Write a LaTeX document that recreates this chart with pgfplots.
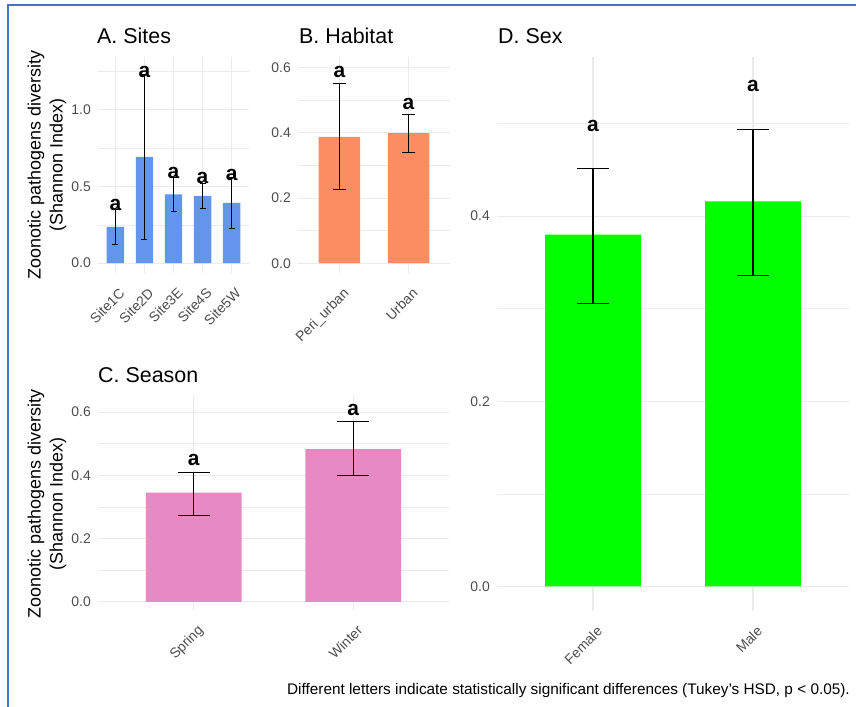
\documentclass[border=0pt]{standalone}
\usepackage{fontspec}
\setmainfont{Liberation Sans}
\usepackage{pgfplots}
\pgfplotsset{compat=1.18}
\definecolor{gridc}{HTML}{EBEBEB}
\definecolor{tickc}{HTML}{4D4D4D}
\definecolor{barA}{HTML}{6495ED}
\definecolor{barB}{HTML}{FC8D62}
\definecolor{barC}{HTML}{E78AC3}
\definecolor{barD}{HTML}{00FF00}
\definecolor{framec}{HTML}{4472C4}
\newcommand{\tickfont}{\fontsize{14}{16}\selectfont}
\newcommand{\titlefont}{\fontsize{21.5}{24}\selectfont}
\newcommand{\letterfont}{\bfseries\fontsize{21}{21}\selectfont}
\pgfplotsset{
  panel/.style={
    scale only axis,
    anchor=south west,
    axis line style={draw=none},
    tick style={draw=none},
    major tick length=0pt,
    minor tick length=0pt,
    xmajorgrids, ymajorgrids, yminorgrids,
    major grid style={gridc, line width=1.1pt},
    minor grid style={gridc, line width=0.6pt},
    /pgf/number format/assume math mode=true,
    /pgf/number format/fixed,
    /pgf/number format/fixed zerofill,
    /pgf/number format/precision=1,
    yticklabel style={font=\tickfont, text=tickc, anchor=east, inner sep=0pt, xshift=-7bp},
    xticklabel style={font=\tickfont, text=tickc, xshift=3bp, yshift=-14bp, rotate=45, anchor=north east, inner sep=0pt},
    clip=false,
  },
  bars/.style={ybar, bar width=0.6, draw=none, fill=#1,
    error bars/y dir=both, error bars/y explicit,
    error bars/error bar style={black, line width=1.1pt},
  },
  letters/.style={only marks, mark=none, nodes near coords={a},
    nodes near coords align={center},
    every node near coord/.append style={font=\letterfont, text=black, inner sep=0pt},
  },
}
\begin{document}
\begin{tikzpicture}[x=1bp, y=1bp]
\path[use as bounding box] (0,0) rectangle (856,707);
\draw[framec, line width=2bp] (8,0) -- (8,702) -- (856,702);

% Panel A
\begin{axis}[panel, at={(98bp,434bp)}, width=151bp, height=216bp,
  xmin=0.4, xmax=5.6, ymin=-0.064, ymax=1.344,
  xtick={1,2,3,4,5}, xticklabels={Site1C,Site2D,Site3E,Site4S,Site5W},
  ytick={0,0.5,1.0}, minor ytick={0.25,0.75,1.25}]
\addplot[bars=barA, error bars/error mark options={rotate=90, black, mark size=3bp, line width=1.1pt}] table[x=x, y=y, y error plus=ep, y error minus=em] {
x y ep em
1 0.237 0.115 0.115
2 0.693 0.538 0.538
3 0.448 0.113 0.113
4 0.439 0.082 0.082
5 0.393 0.167 0.167
};
\addplot[letters] table[x=x, y=y] {
x y
1 0.378
2 1.246
3 0.585
4 0.554
5 0.574
};
\end{axis}

% Panel B
\begin{axis}[panel, at={(298bp,434bp)}, width=152bp, height=216bp,
  xmin=0.4, xmax=2.6, ymin=-0.03, ymax=0.633,
  xtick={1,2}, xticklabels={Peri\_urban,Urban},
  ytick={0,0.2,0.4,0.6}, minor ytick={0.1,0.3,0.5}]
\addplot[bars=barB, error bars/error mark options={rotate=90, black, mark size=6.9bp, line width=1.1pt}] table[x=x, y=y, y error plus=ep, y error minus=em] {
x y ep em
1 0.388 0.164 0.163
2 0.399 0.057 0.059
};
\addplot[letters] table[x=x, y=y] {
x y
1 0.588
2 0.490
};
\end{axis}

% Panel C
\begin{axis}[panel, at={(98bp,97bp)}, width=351bp, height=215bp,
  xmin=0.4, xmax=2.6, ymin=-0.026, ymax=0.654,
  xtick={1,2}, xticklabels={Spring,Winter},
  ytick={0,0.2,0.4,0.6}, minor ytick={0.1,0.3,0.5}]
\addplot[bars=barC, error bars/error mark options={rotate=90, black, mark size=16bp, line width=1.1pt}] table[x=x, y=y, y error plus=ep, y error minus=em] {
x y ep em
1 0.345 0.065 0.073
2 0.483 0.086 0.084
};
\addplot[letters] table[x=x, y=y] {
x y
1 0.448
2 0.606
};
\end{axis}

% Panel D
\begin{axis}[panel, at={(497bp,96bp)}, width=352bp, height=554bp,
  xmin=0.4, xmax=2.6, ymin=-0.0265, ymax=0.572,
  xtick={1,2}, xticklabels={Female,Male},
  ytick={0,0.2,0.4}, minor ytick={0.1,0.3,0.5}]
\addplot[bars=barD, error bars/error mark options={rotate=90, black, mark size=16bp, line width=1.1pt}] table[x=x, y=y, y error plus=ep, y error minus=em] {
x y ep em
1 0.380 0.072 0.074
2 0.416 0.078 0.080
};
\addplot[letters] table[x=x, y=y] {
x y
1 0.498
2 0.541
};
\end{axis}

% Titles
\node[anchor=base west, font=\titlefont, inner sep=0pt] at (97,663) {A. Sites};
\node[anchor=base west, font=\titlefont, inner sep=0pt] at (299,663) {B. Habitat};
\node[anchor=base west, font=\titlefont, inner sep=0pt] at (98,324.5) {C. Season};
\node[anchor=base west, font=\titlefont, inner sep=0pt] at (498,663) {D. Sex};

% Y axis titles
\node[rotate=90, align=center, font=\fontsize{18}{22}\selectfont, inner sep=0pt] at (47,542) {Zoonotic pathogens diversity\\(Shannon Index)};
\node[rotate=90, align=center, font=\fontsize{18}{22}\selectfont, inner sep=0pt] at (47,203) {Zoonotic pathogens diversity\\(Shannon Index)};

% Caption
\node[anchor=east, font=\fontsize{15.4}{18}\selectfont, inner sep=0pt] at (850,16) {Different letters indicate statistically significant differences (Tukey's HSD, p < 0.05).};
\end{tikzpicture}
\end{document}
